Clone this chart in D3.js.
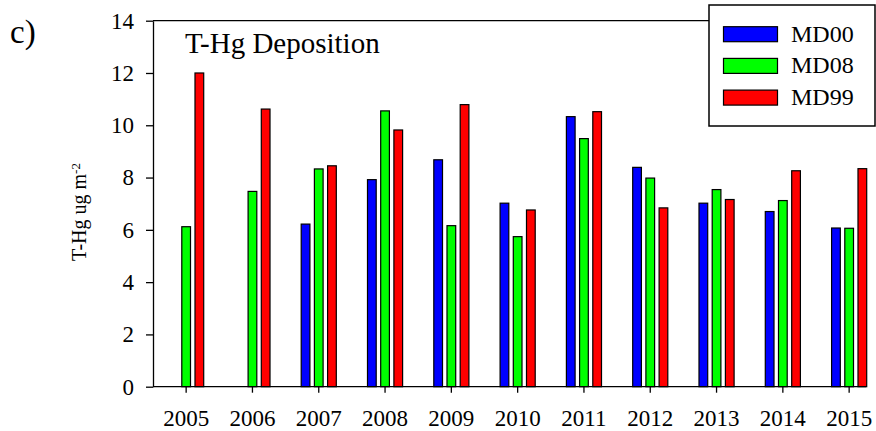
<!DOCTYPE html>
<meta charset="utf-8">
<style>
body { margin: 0; background: #fff; }
svg text { font-family: "Liberation Serif", "Times New Roman", serif; fill: #000; }
.axis path, .axis line { stroke: #000; stroke-width: 1.3px; }
</style>
<body>
<script src="https://d3js.org/d3.v7.min.js"></script>
<script>
// data
var years = ["2005", "2006", "2007", "2008", "2009", "2010", "2011", "2012", "2013", "2014", "2015"];
var series = ["MD00", "MD08", "MD99"];
var colors = ["#0000ff", "#00ff00", "#ff0000"];
var md00 = [null, null, 6.22, 7.92, 8.68, 7.02, 10.33, 8.39, 7.02, 6.70, 6.07];
var md08 = [6.12, 7.47, 8.33, 10.55, 6.16, 5.74, 9.49, 7.98, 7.54, 7.12, 6.06];
var md99 = [12.0, 10.62, 8.45, 9.82, 10.79, 6.76, 10.52, 6.84, 7.16, 8.26, 8.34];
var yTicks = [0, 2, 4, 6, 8, 10, 12, 14];

var W = 876, H = 431;
var plotL = 153, plotT = 20.7, plotB = 386.7, plotR = 866;
var step = 66.3;

var svg = d3.select("body").append("svg")
    .attr("width", W)
    .attr("height", H);

var x0 = d3.scaleBand().domain(years).range([plotL, plotL + step * years.length]);
var x1 = d3.scaleBand().domain(series).range([step / 2 - 19.8, step / 2 + 19.8])
    .paddingInner(0.34).paddingOuter(0.17);
var y = d3.scaleLinear().domain([0, 14]).range([plotB, plotT]);

var vals = [md00, md08, md99];
var rows = [];
years.forEach(function(yr, i) {
  series.forEach(function(s, j) {
    if (vals[j][i] != null) rows.push({year: yr, s: s, v: vals[j][i], c: colors[j]});
  });
});

// bars
svg.append("g").selectAll("rect")
    .data(rows)
  .enter().append("rect")
    .attr("x", function(d) { return x0(d.year) + x1(d.s); })
    .attr("y", function(d) { return y(d.v); })
    .attr("width", x1.bandwidth())
    .attr("height", function(d) { return plotB - y(d.v); })
    .style("fill", function(d) { return d.c; })
    .style("stroke", "#000")
    .style("stroke-width", "1.2px");

// y axis
var gy = svg.append("g")
    .attr("class", "axis")
    .attr("transform", "translate(" + plotL + ",0)")
    .call(d3.axisLeft(y).tickValues(yTicks).tickSize(7).tickSizeOuter(0).tickPadding(12));
gy.selectAll("text").style("font-size", "23px").style("font-family", "Liberation Serif");

// x axis
var gx = svg.append("g")
    .attr("class", "axis")
    .attr("transform", "translate(0," + plotB + ")")
    .call(d3.axisBottom(x0).tickSize(6).tickSizeOuter(0).tickPadding(17));
gx.select(".domain").remove();
gx.selectAll("text").style("font-size", "23px").style("font-family", "Liberation Serif");
svg.append("line")
    .attr("x1", plotL).attr("x2", plotR)
    .attr("y1", plotB).attr("y2", plotB)
    .style("stroke", "#000").style("stroke-width", "1.3px");

// top frame line up to the legend
var legX = 709, legY = 5, legW = 166, legH = 121;
svg.append("line")
    .attr("x1", plotL).attr("x2", legX)
    .attr("y1", plotT).attr("y2", plotT)
    .style("stroke", "#000").style("stroke-width", "1.3px");

// legend
svg.append("rect")
    .attr("x", legX).attr("y", legY)
    .attr("width", legW).attr("height", legH)
    .style("fill", "#fff").style("stroke", "#000").style("stroke-width", "1.5px");
var leg = svg.append("g").selectAll("g")
    .data(series)
  .enter().append("g")
    .attr("transform", function(d, i) { return "translate(723.5," + (26.7 + i * 31.7) + ")"; });
leg.append("rect")
    .attr("width", 54).attr("height", 15)
    .style("fill", function(d, i) { return colors[i]; })
    .style("stroke", "#000").style("stroke-width", "1.2px");
leg.append("text")
    .attr("x", 67.5).attr("y", 15)
    .style("font-size", "24px")
    .text(function(d) { return d; });

// title and panel letter
svg.append("text")
    .attr("x", 185).attr("y", 53)
    .style("font-size", "29px")
    .text("T-Hg Deposition");
svg.append("text")
    .attr("x", 10).attr("y", 43)
    .style("font-size", "33px")
    .text("c)");

// y label
var yl = svg.append("text")
    .attr("transform", "translate(86,212) rotate(-90)")
    .attr("text-anchor", "middle")
    .style("font-size", "20px");
yl.append("tspan").text("T-Hg ug m");
yl.append("tspan").attr("dy", "-0.5em").style("font-size", "13px").text("-2");
</script>
</body>
